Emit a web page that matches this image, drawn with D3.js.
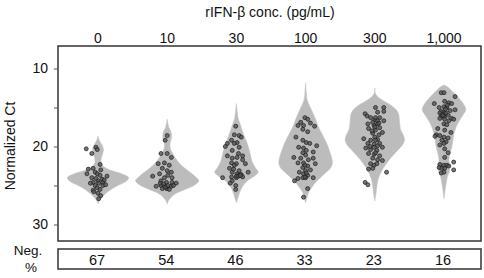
<!DOCTYPE html>
<html><head><meta charset="utf-8">
<script src="https://cdn.jsdelivr.net/npm/d3@7"></script>
<style>html,body{margin:0;padding:0;background:#fff;} svg{display:block;font-family:"Liberation Sans",Arial,sans-serif;}</style>
</head><body>
<svg id="c" width="484" height="278"></svg>
<script>
// ---------------- DATA ----------------
const categories = ["0", "10", "30", "100", "300", "1,000"];
const negPercent = [67, 54, 46, 33, 23, 16];
const yTicks = [10, 15, 20, 25, 30];
const yTickLabels = ["10", "", "20", "", "30"];

// Violin profiles: [Ct, density width]
const violin0 = [[18.7,0],[19.3,1.5],[19.8,4],[20.3,5.5],[20.8,5],[21.4,3.5],[22.0,3],[22.5,5],[23.0,12],[23.5,24],[24.0,31],[24.5,28],[25.0,20],[25.5,13],[26.0,8],[26.5,4],[27.0,1],[27.3,0]];
const violin1 = [[16.5,0],[17.5,1.5],[18.2,4],[18.8,4.5],[19.5,3],[20.2,3],[21.0,6],[21.8,10],[22.5,15],[23.2,22],[23.8,28],[24.4,32],[25.0,27],[25.5,18],[26.0,9],[26.5,4],[27.0,1],[27.4,0]];
const violin2 = [[14.5,0],[15.5,0.8],[16.5,2],[17.2,4],[18.0,6],[19.0,9],[20.0,12],[21.0,14],[22.0,16],[22.7,19],[23.3,22],[23.8,18],[24.3,12],[24.8,8],[25.4,5],[26.0,3],[26.6,1.5],[27.2,0]];
const violin3 = [[11.8,0],[13.0,0.6],[14.0,1.5],[14.8,4],[15.6,7],[16.5,10],[17.5,13],[18.5,17],[19.5,21],[20.5,24],[21.5,26.5],[22.2,27],[22.8,25],[23.4,20],[24.0,15],[24.6,10],[25.3,6],[25.9,3],[26.5,1.5],[27.2,0]];
const violin4 = [[12.5,0],[13.3,1],[14.0,7],[14.6,15],[15.2,21],[15.8,24],[16.8,25],[17.8,26],[18.6,29],[19.2,30],[19.8,28],[20.5,23],[21.2,18],[21.8,14],[22.5,10],[23.1,7],[23.8,4.5],[24.4,3],[25.2,2],[26.0,1.2],[27.0,0]];
const violin5 = [[12.1,0],[12.4,4],[13.0,9],[13.8,15],[14.6,20],[15.3,22],[16.0,19],[16.8,15],[17.6,12],[18.4,10],[19.2,9],[20.0,8],[21.0,6],[21.8,5],[22.5,6],[23.2,5.5],[23.8,3.5],[24.5,2.5],[25.5,1.2],[26.7,0]];

// Points: [jitter (fraction of category step), Ct]
const points0 = [[-0.17,20.3],[-0.03,20.1],[-0.01,20.4],[-0.09,20.9],[0.03,22.3],[-0.14,22.9],[-0.07,22.8],[-0.04,23.3],[-0.01,23.5],[0.03,23.7],[0.13,23.8],[-0.16,23.5],[-0.09,24.0],[0,24.4],[0.06,24.2],[0.07,24.6],[-0.07,24.6],[-0.11,24.7],[-0.04,25.0],[0.01,24.7],[0.07,25.0],[-0.01,25.3],[0.03,25.5],[-0.07,25.6],[0,26.0],[0.04,26.3],[0.01,26.7],[0.09,24.3],[-0.03,24.1],[0.04,23.0],[-0.06,25.8],[0.11,24.9]];
const points1 = [[0,18.6],[-0.03,19.2],[-0.09,20.9],[0,20.9],[0.06,21.4],[-0.13,22.2],[-0.04,22.1],[0.03,22.4],[-0.07,22.8],[0,23.1],[0.06,23.3],[-0.21,23.8],[-0.11,23.5],[-0.04,24.0],[0.01,23.7],[0.07,24.0],[-0.09,24.4],[-0.01,24.6],[0.07,24.6],[0.13,24.7],[-0.16,25.1],[-0.09,25.0],[-0.04,25.1],[0,25.3],[0.06,25.1],[-0.07,25.4],[-0.01,25.4],[0.03,25.5],[0.09,25.0],[-0.1,24.7],[-0.03,25.2],[0.01,25.0],[-0.05,24.8]];
const points2 = [[-0.01,17.4],[-0.03,18.5],[0.04,18.6],[0.07,18.8],[-0.07,19.2],[0.01,19.5],[-0.13,19.6],[-0.16,20.0],[-0.03,19.6],[0.04,20.1],[-0.06,20.5],[0.03,20.9],[0.09,21.2],[-0.13,21.2],[-0.06,21.5],[0.01,21.4],[0.09,21.7],[-0.07,22.1],[0,22.2],[0.13,22.2],[-0.03,22.4],[-0.1,22.8],[0.04,23.1],[-0.06,23.3],[0.01,23.5],[0.07,23.6],[0.17,23.3],[-0.2,24.0],[-0.07,23.9],[0,24.0],[0.04,23.7],[0.09,23.9],[-0.06,24.4],[-0.09,24.7],[-0.01,25.0],[-0.01,25.5],[0,23.8],[0.03,23.8],[0.06,23.7],[-0.04,22.9]];
const points3 = [[-0.01,16.3],[0.03,16.5],[-0.07,16.9],[0.07,17.0],[-0.11,17.3],[0.13,17.4],[-0.03,17.3],[-0.04,17.8],[0.03,18.1],[-0.14,18.8],[-0.04,19.2],[0.01,19.5],[0.06,19.6],[0.16,19.9],[-0.1,20.1],[-0.03,20.2],[-0.04,20.8],[0.11,20.7],[0,21.1],[-0.17,21.4],[-0.07,21.5],[0.04,21.7],[0.11,21.5],[-0.03,22.1],[-0.11,22.1],[0.14,22.2],[0.03,22.5],[-0.04,22.7],[0,23.1],[0.07,23.0],[-0.09,23.3],[-0.03,23.5],[0.03,23.7],[0.11,24.0],[-0.11,24.1],[-0.04,24.0],[0,24.0],[-0.16,24.4],[0.03,25.4],[-0.03,26.5],[-0.01,23.9],[0.01,23.4],[-0.01,22.4],[0.01,20.5]];
const points4 = [[0.01,15.0],[0.13,15.0],[0.13,15.5],[-0.14,15.8],[-0.11,16.1],[0.04,15.6],[-0.06,16.3],[0,16.6],[0.07,16.3],[0.13,16.7],[-0.1,17.1],[0.04,17.1],[-0.01,17.3],[0.07,17.6],[-0.09,17.7],[0.01,17.9],[-0.03,18.3],[0.06,18.5],[0.11,18.2],[0,18.8],[-0.16,19.0],[-0.06,19.2],[0.04,19.1],[-0.1,19.6],[-0.01,19.7],[0.07,19.6],[0.11,20.1],[-0.13,20.2],[-0.06,20.4],[0.03,20.5],[-0.09,20.9],[-0.01,21.0],[0.07,21.2],[-0.03,21.5],[0.04,21.7],[0.11,21.8],[-0.06,22.2],[-0.01,22.4],[-0.03,22.8],[-0.09,22.9],[0.17,23.3],[-0.14,24.6],[-0.1,24.9],[0.01,16.3],[0.04,16.7],[-0.03,16.9],[0.01,19.2],[0.04,19.9],[-0.01,20.1],[0.01,20.8],[0.03,22.2],[-0.04,18.0],[0.06,17.0],[0.0,17.5],[-0.07,20.0]];
const points5 = [[-0.04,13.1],[0,13.1],[0.16,13.6],[-0.14,14.5],[0.01,14.2],[0.07,14.4],[0.11,14.5],[-0.07,15.0],[0,14.9],[0.04,15.0],[0.16,15.3],[0.09,15.4],[-0.03,15.8],[0.01,15.8],[-0.04,16.1],[0,16.2],[0.06,16.0],[0.11,16.4],[-0.06,16.4],[0.01,16.5],[0.07,16.7],[0.14,16.5],[0,17.1],[0.04,17.2],[-0.09,17.7],[0.01,17.9],[0.1,18.2],[-0.11,18.5],[-0.06,18.6],[-0.13,18.7],[0,18.8],[0.06,18.9],[-0.03,19.2],[0.03,19.4],[0,19.6],[-0.06,19.8],[0.01,20.3],[0.06,20.8],[0.01,21.4],[0.14,22.0],[-0.06,22.3],[0,22.4],[0.04,22.4],[0.07,22.5],[-0.07,22.7],[-0.03,22.8],[0.01,22.8],[0.14,23.0],[0,23.3],[-0.04,23.4],[-0.03,15.9],[-0.01,15.6],[-0.04,15.5],[0.03,15.7],[-0.02,16.0],[0.02,15.2],[-0.06,15.7],[0.05,14.7]];

const violins = [violin0, violin1, violin2, violin3, violin4, violin5];
const pointSets = [points0, points1, points2, points3, points4, points5];

// ---------------- LAYOUT ----------------
const svg = d3.select("#c");
const plot = {left: 58, right: 481, top: 46, bottom: 241};
const negBox = {top: 249, bottom: 269};

const x = d3.scalePoint().domain(categories).range([98, 444]);
const y = d3.scaleLinear().domain([10, 30]).range([68.5, 224.5]);
const w = d3.scaleLinear().domain([0, 35]).range([0, x.step() / 2]);
const jit = d3.scaleLinear().domain([0, 1]).range([0, x.step()]);

const fontFam = '"Liberation Sans", Arial, sans-serif';

// title
svg.append("text").attr("x", 270).attr("y", 17).attr("text-anchor", "middle")
  .attr("font-size", 14).attr("fill", "#111").text("rIFN-β conc. (pg/mL)");

// top category labels
svg.append("g").selectAll("text").data(categories).join("text")
  .attr("x", d => x(d)).attr("y", 43).attr("text-anchor", "middle")
  .attr("font-size", 14).attr("fill", "#111").text(d => d);

// violins
const area = d3.area()
  .y(d => y(d[0]))
  .curve(d3.curveCatmullRom.alpha(0.5));
const vg = svg.append("g");
violins.forEach((v, i) => {
  const cx = x(categories[i]);
  vg.append("path").datum(v)
    .attr("d", area.x0(d => cx - w(d[1])).x1(d => cx + w(d[1])))
    .attr("fill", "#bcbcbc").attr("stroke", "#c4c4c4").attr("stroke-width", 0.6);
});

// points
const pg = svg.append("g");
pointSets.forEach((ps, i) => {
  const cx = x(categories[i]);
  pg.selectAll(null).data(ps).join("circle")
    .attr("cx", d => cx + jit(d[0])).attr("cy", d => y(d[1])).attr("r", 2)
    .attr("fill", "#555").attr("fill-opacity", 0.8)
    .attr("stroke", "#1e1e1e").attr("stroke-width", 0.8).attr("stroke-opacity", 0.9);
});

// plot frame
svg.append("rect").attr("x", plot.left).attr("y", plot.top)
  .attr("width", plot.right - plot.left).attr("height", plot.bottom - plot.top)
  .attr("fill", "none").attr("stroke", "#333").attr("stroke-width", 1.5);

// y axis
const yAxis = d3.axisLeft(y).tickValues(yTicks).tickSize(4).tickPadding(4)
  .tickFormat((d, i) => yTickLabels[i]);
const ga = svg.append("g").attr("transform", `translate(${plot.left},0)`).call(yAxis);
ga.select(".domain").remove();
ga.selectAll("line").attr("stroke", "#555");
ga.selectAll("text").attr("font-size", 14).attr("font-family", fontFam).attr("fill", "#111").attr("dx", -2);

// y label
svg.append("text").attr("transform", "translate(15,146) rotate(-90)")
  .attr("text-anchor", "middle").attr("font-size", 14).attr("fill", "#111").text("Normalized Ct");

// Neg % box
svg.append("rect").attr("x", plot.left).attr("y", negBox.top)
  .attr("width", plot.right - plot.left).attr("height", negBox.bottom - negBox.top)
  .attr("fill", "none").attr("stroke", "#333").attr("stroke-width", 1.5);
svg.append("g").selectAll("text").data(negPercent).join("text")
  .attr("x", (d, i) => x(categories[i]) - 1).attr("y", 264.5).attr("text-anchor", "middle")
  .attr("font-size", 14.5).attr("fill", "#111").text(d => d);
svg.append("text").attr("x", 28).attr("y", 255).attr("text-anchor", "middle")
  .attr("font-size", 13.5).attr("fill", "#111").text("Neg.");
svg.append("text").attr("x", 31).attr("y", 272).attr("text-anchor", "middle")
  .attr("font-size", 13.5).attr("fill", "#111").text("%");
</script>
</body></html>
